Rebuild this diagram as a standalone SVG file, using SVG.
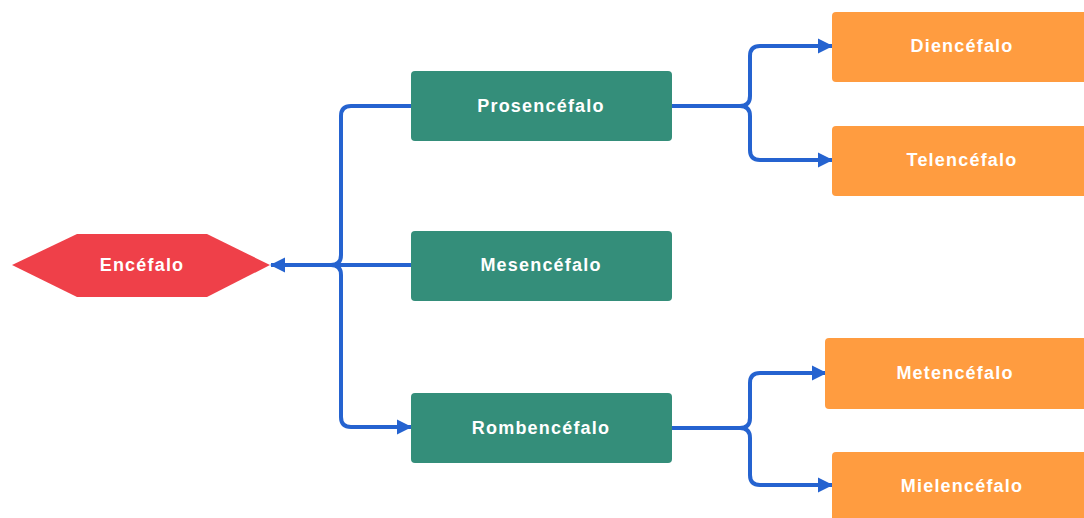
<svg xmlns="http://www.w3.org/2000/svg" width="1084" height="518" viewBox="0 0 1084 518">
<style>
.lbl{font-family:"Liberation Sans",Arial,sans-serif;font-weight:bold;font-size:18px;fill:#fff;text-anchor:middle;dominant-baseline:central;letter-spacing:1.2px}
.g{fill:#348E7A}
.o{fill:#FF9C40}
.c{fill:none;stroke:#2563D0;stroke-width:4;stroke-linejoin:round}
</style>
<defs>
<marker id="ah" markerUnits="userSpaceOnUse" markerWidth="18" markerHeight="18" refX="15" refY="9" orient="auto">
<path d="M1,1.5 L16,9 L1,16.5 Z" fill="#2563D0"/>
</marker>
</defs>
<rect width="1084" height="518" fill="#fff"/>
<g id="connectors">
<path class="c" d="M411,106 H351 Q341,106 341,116 V255 Q341,265 331,265 H285"/>
<path class="c" d="M411,265 H271" marker-end="url(#ah)"/>
<path class="c" d="M331,265 Q341,265 341,275 V417 Q341,427 351,427 H411" marker-end="url(#ah)"/>
<path class="c" d="M672,106 H740 Q750,106 750,96 V56 Q750,46 760,46 H832" marker-end="url(#ah)"/>
<path class="c" d="M740,106 Q750,106 750,116 V150 Q750,160 760,160 H832" marker-end="url(#ah)"/>
<path class="c" d="M672,428 H740 Q750,428 750,418 V383 Q750,373 760,373 H826" marker-end="url(#ah)"/>
<path class="c" d="M740,428 Q750,428 750,438 V475 Q750,485 760,485 H832" marker-end="url(#ah)"/>
</g>
<g id="encefalo">
<polygon points="12,265 77,234 207,234 270,265 207,297 77,297" fill="#EF4049"/>
<text class="lbl" x="142" y="265">Encéfalo</text>
</g>
<g id="prosencefalo">
<rect class="g" x="411" y="71" width="261" height="70" rx="4"/>
<text class="lbl" x="541" y="106">Prosencéfalo</text>
</g>
<g id="mesencefalo">
<rect class="g" x="411" y="231" width="261" height="70" rx="4"/>
<text class="lbl" x="541" y="265">Mesencéfalo</text>
</g>
<g id="rombencefalo">
<rect class="g" x="411" y="393" width="261" height="70" rx="4"/>
<text class="lbl" x="541" y="428">Rombencéfalo</text>
</g>
<g id="diencefalo">
<rect class="o" x="832" y="12" width="262" height="70" rx="4"/>
<text class="lbl" x="962" y="46">Diencéfalo</text>
</g>
<g id="telencefalo">
<rect class="o" x="832" y="126" width="262" height="70" rx="4"/>
<text class="lbl" x="962" y="160">Telencéfalo</text>
</g>
<g id="metencefalo">
<rect class="o" x="825" y="338" width="269" height="71" rx="4"/>
<text class="lbl" x="955" y="373">Metencéfalo</text>
</g>
<g id="mielencefalo">
<rect class="o" x="832" y="452" width="262" height="76" rx="4"/>
<text class="lbl" x="962" y="486">Mielencéfalo</text>
</g>
</svg>
